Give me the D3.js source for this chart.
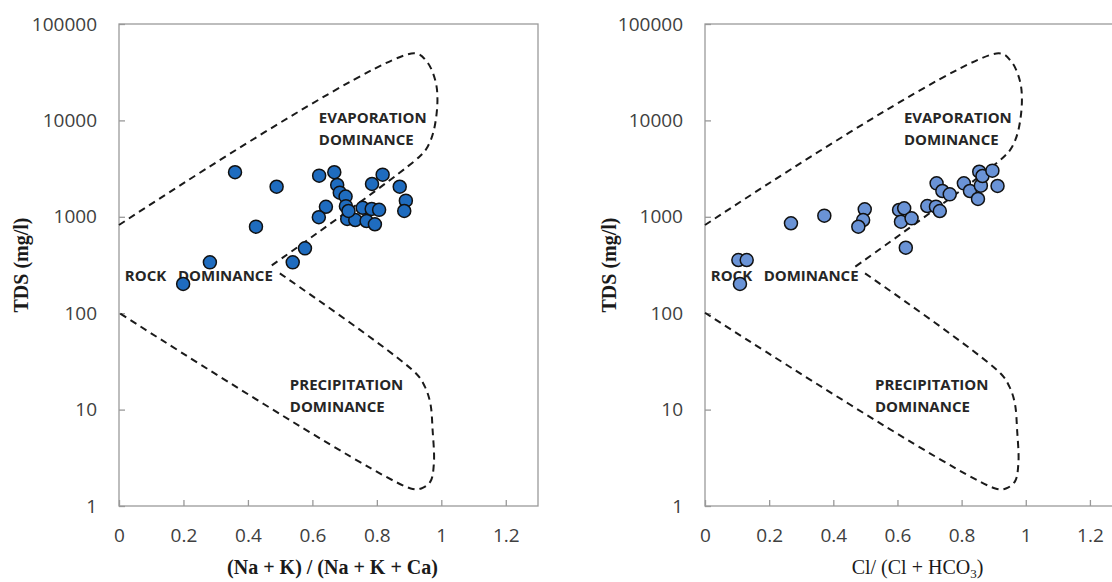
<!DOCTYPE html>
<html>
    <head>
        <meta charset="utf-8">
        <title>Gibbs diagrams</title>
        <style>
            body { margin: 0; background: #fff; }
            .tick text { font-family: 'Open Sans', sans-serif; font-size: 19px; fill: #404040; }
            .tick line { stroke: #999; stroke-width: 1.3; }
            .zone { font-family: 'Open Sans', sans-serif; font-weight: bold; font-size: 15px; fill: #262626; }
            .title { font-family: 'Liberation Serif', serif; font-size: 20px; fill: #1a1a1a; }
        </style>
    </head>
    <body>
        <div id="chart"></div>
        <script src="https://cdn.jsdelivr.net/npm/d3@7"></script>
        <script>
            // cation plot: (Na + K) / (Na + K + Ca) vs TDS
            var cationRatio = [0.360, 0.489, 0.425, 0.282, 0.199, 0.577, 0.539, 0.621, 0.668, 0.677,
                               0.685, 0.703, 0.642, 0.620, 0.704, 0.708, 0.733, 0.756, 0.768, 0.784,
                               0.807, 0.794, 0.785, 0.818, 0.871, 0.890, 0.885, 0.712];
            var cationTDS = [2900, 2050, 790, 337, 201, 471, 337, 2670, 2900, 2140,
                             1780, 1620, 1270, 990, 1290, 950, 926, 1240, 904, 1205,
                             1180, 836, 2190, 2735, 2050, 1470, 1150, 1150];

            // anion plot: Cl / (Cl + HCO3) vs TDS
            var anionRatio = [0.104, 0.130, 0.109, 0.268, 0.372, 0.498, 0.493, 0.478, 0.605, 0.621,
                              0.611, 0.644, 0.626, 0.693, 0.720, 0.732, 0.722, 0.740, 0.763, 0.807,
                              0.826, 0.851, 0.860, 0.855, 0.865, 0.896, 0.912];
            var anionTDS = [356, 356, 201, 857, 1028, 1197, 926, 789, 1178, 1225,
                            889, 964, 478, 1294, 1274, 1148, 2225, 1852, 1711, 2225,
                            1852, 1530, 2103, 2936, 2650, 3009, 2089];

            var xTicks = [0, 0.2, 0.4, 0.6, 0.8, 1, 1.2];
            var yTicks = [1, 10, 100, 1000, 10000, 100000];

            // Gibbs boundary lines (same for both plots)
            var upperBoundX = [0, 0.916, 0.955, 0.981, 0.988, 0.977, 0.958, 0.932, 0.468];
            var upperBoundTDS = [822, 49700, 40700, 26300, 16200, 7940, 5370, 4200, 303];
            var lowerBoundX = [0.499, 0.921, 0.949, 0.966, 0.973, 0.977, 0.966, 0.938, 0.905, 0];
            var lowerBoundTDS = [259, 23.8, 17.3, 11.6, 6.14, 2.77, 1.79, 1.52, 1.52, 101];

            var zoneText = ['EVAPORATION', 'DOMINANCE', 'ROCK', 'DOMINANCE', 'PRECIPITATION', 'DOMINANCE'];
            var zoneX = [0.62, 0.62, 0.018, 0.183, 0.53, 0.53];
            var zoneTDS = [9400, 5560, 218, 218, 16, 9.5];

            (function(d3) {
                'use strict';
                var width = 1112;
                var height = 582;
                var plotTop = 24, plotBottom = 506;

                var svg = d3.select('#chart')
                    .append('svg')
                    .attr('width', width)
                    .attr('height', height);

                var panels = [
                    { left: 119, right: 538, xs: cationRatio, ys: cationTDS, fill: '#1f6cbf', yTitleX: 21,
                      title: ['(Na + K) / (Na + K + Ca)'], bold: true },
                    { left: 705, right: 1122, xs: anionRatio, ys: anionTDS, fill: '#6a93d6', yTitleX: 609,
                      title: ['Cl/ (Cl + HCO', '3', ')'], bold: false }
                ];

                panels.forEach(function(p) {
                    var x = d3.scaleLinear().domain([0, 1.3]).range([p.left, p.right]);
                    var y = d3.scaleLog().domain([1, 100000]).range([plotBottom, plotTop]);
                    var g = svg.append('g');

                    // plot frame
                    g.append('rect')
                        .attr('x', p.left)
                        .attr('y', plotTop)
                        .attr('width', p.right - p.left)
                        .attr('height', plotBottom - plotTop)
                        .attr('fill', 'none')
                        .attr('stroke', '#9a9a9a')
                        .attr('stroke-width', 1.3);

                    var xAxis = g.append('g')
                        .attr('transform', 'translate(0,' + plotBottom + ')')
                        .call(d3.axisBottom(x).tickValues(xTicks).tickSize(-6).tickPadding(23)
                              .tickFormat(function(d) { return d; }));
                    xAxis.select('.domain').remove();

                    var yAxis = g.append('g')
                        .attr('transform', 'translate(' + p.left + ',0)')
                        .call(d3.axisLeft(y).tickValues(yTicks).tickSize(-6).tickPadding(22)
                              .tickFormat(function(d) { return d; }));
                    yAxis.select('.domain').remove();

                    // boundaries
                    var line = d3.line()
                        .x(function(d) { return x(d[0]); })
                        .y(function(d) { return y(d[1]); })
                        .curve(d3.curveCatmullRom.alpha(0.5));
                    [[upperBoundX, upperBoundTDS], [lowerBoundX, lowerBoundTDS]].forEach(function(b) {
                        g.append('path')
                            .datum(d3.zip(b[0], b[1]))
                            .attr('d', line)
                            .attr('fill', 'none')
                            .attr('stroke', '#1a1a1a')
                            .attr('stroke-width', 2)
                            .attr('stroke-dasharray', '7,5');
                    });

                    g.selectAll('.zone')
                        .data(zoneText)
                        .enter()
                        .append('text')
                        .attr('class', 'zone')
                        .attr('x', function(d, i) { return x(zoneX[i]); })
                        .attr('y', function(d, i) { return y(zoneTDS[i]); })
                        .text(function(d) { return d; });

                    g.selectAll('circle')
                        .data(d3.zip(p.xs, p.ys))
                        .enter()
                        .append('circle')
                        .attr('cx', function(d) { return x(d[0]); })
                        .attr('cy', function(d) { return y(d[1]); })
                        .attr('r', 6.5)
                        .attr('fill', p.fill)
                        .attr('stroke', '#111')
                        .attr('stroke-width', 1.5);

                    // axis titles
                    var t = g.append('text')
                        .attr('class', 'title')
                        .attr('x', (p.left + p.right) / 2 + 4)
                        .attr('y', 574)
                        .attr('text-anchor', 'middle')
                        .style('font-weight', p.bold ? 'bold' : 'normal');
                    t.append('tspan').text(p.title[0]);
                    if (p.title.length > 1) {
                        t.append('tspan').attr('dy', 4).style('font-size', '13px').text(p.title[1]);
                        t.append('tspan').attr('dy', -4).text(p.title[2]);
                    }

                    g.append('text')
                        .attr('class', 'title')
                        .attr('transform', 'translate(' + p.yTitleX + ',' + (plotTop + plotBottom) / 2 + ') rotate(-90)')
                        .attr('dy', '0.35em')
                        .attr('text-anchor', 'middle')
                        .style('font-weight', 'bold')
                        .text('TDS (mg/l)');
                });
            })(window.d3);
        </script>
    </body>
</html>
